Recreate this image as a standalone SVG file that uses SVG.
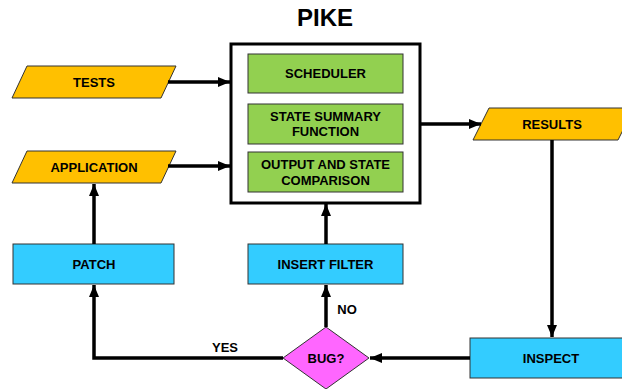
<svg xmlns="http://www.w3.org/2000/svg" width="622" height="389" viewBox="0 0 622 389">
<defs>
<style>
text{font-family:"Liberation Sans",Arial,sans-serif;font-weight:bold;fill:#000;text-anchor:middle;dominant-baseline:central}
.lbl{font-size:13px}
.io{fill:#FFC000;stroke:#333;stroke-width:1}
.grn{fill:#92D050;stroke:#333;stroke-width:1}
.blu{fill:#33CCFF;stroke:#333;stroke-width:1}
.dia{fill:#FF66FF;stroke:#333;stroke-width:1}
.con{fill:none;stroke:#000;stroke-width:3.5;stroke-linejoin:miter}
</style>
<marker id="ah" viewBox="0 0 12 10" refX="12" refY="5" markerWidth="12" markerHeight="10" markerUnits="userSpaceOnUse" orient="auto">
<path d="M0,0 L12,5 L0,10 Z" fill="#000"/>
</marker>
</defs>
<rect width="622" height="389" fill="#fff"/>
<text x="325" y="17" style="font-size:24px">PIKE</text>

<g id="pike">
<rect x="231" y="44" width="189" height="159" fill="#fff" stroke="#000" stroke-width="3"/>
</g>
<g id="scheduler">
<rect class="grn" x="248" y="54" width="155" height="39"/>
<text class="lbl" x="325.5" y="73.5">SCHEDULER</text>
</g>
<g id="state-summary">
<rect class="grn" x="248" y="104" width="155" height="40"/>
<text class="lbl" x="325.5" y="116">STATE SUMMARY</text>
<text class="lbl" x="325.5" y="131">FUNCTION</text>
</g>
<g id="output-compare">
<rect class="grn" x="248" y="152" width="155" height="40"/>
<text class="lbl" x="325.5" y="164">OUTPUT AND STATE</text>
<text class="lbl" x="325.5" y="180">COMPARISON</text>
</g>
<g id="tests">
<polygon class="io" points="27,66 176,66 161,98 12,98"/>
<text class="lbl" x="94" y="82">TESTS</text>
</g>
<g id="application">
<polygon class="io" points="27,151 176,151 161,183 12,183"/>
<text class="lbl" x="94" y="167">APPLICATION</text>
</g>
<g id="results">
<polygon class="io" points="489,108 634,108 618,140 473,140"/>
<text class="lbl" x="552" y="124">RESULTS</text>
</g>
<g id="patch">
<rect class="blu" x="13" y="244" width="161" height="40"/>
<text class="lbl" x="94" y="264">PATCH</text>
</g>
<g id="insert-filter">
<rect class="blu" x="248" y="244" width="155" height="40"/>
<text class="lbl" x="325.5" y="264">INSERT FILTER</text>
</g>
<g id="inspect">
<rect class="blu" x="470" y="338" width="162" height="40"/>
<text class="lbl" x="551" y="358">INSPECT</text>
</g>
<g id="bug">
<polygon class="dia" points="326,327 369,358 326,389 283,358"/>
<text class="lbl" x="326" y="358">BUG?</text>
</g>

<g id="connectors">
<path class="con" d="M168,82 H230" marker-end="url(#ah)"/>
<path class="con" d="M168,166 H230" marker-end="url(#ah)"/>
<path class="con" d="M420,124 H481" marker-end="url(#ah)"/>
<path class="con" d="M552,140 V337" marker-end="url(#ah)"/>
<path class="con" d="M470,358 H370" marker-end="url(#ah)"/>
<path class="con" d="M326,327 V285" marker-end="url(#ah)"/>
<path class="con" d="M326,244 V204" marker-end="url(#ah)"/>
<path class="con" d="M283,358 H94 V285" marker-end="url(#ah)"/>
<path class="con" d="M94,244 V184" marker-end="url(#ah)"/>
<text class="lbl" x="225" y="347">YES</text>
<text class="lbl" x="347" y="309">NO</text>
</g>
</svg>
